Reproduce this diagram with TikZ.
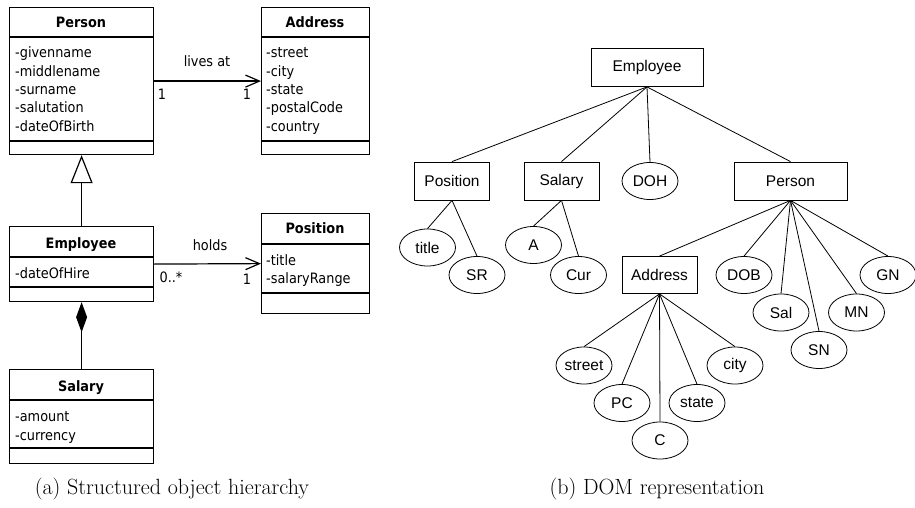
\documentclass[tikz,border=0pt]{standalone}
\usepackage{fontspec}
\newfontfamily\umlfont[FakeStretch=0.9]{DejaVu Sans}
\newfontfamily\domfont{Liberation Sans}
\usetikzlibrary{arrows.meta,shapes.geometric}
\begin{document}
\begin{tikzpicture}[x=1pt,y=-1pt,
  umlbox/.style={draw, line width=1.2pt, inner sep=0pt, anchor=north west},
  umlsep/.style={line width=1.2pt},
  umltitle/.style={font=\umlfont\bfseries\fontsize{14.3}{16}\selectfont, inner sep=0pt, anchor=base},
  umlattr/.style={font=\umlfont\fontsize{14.3}{16}\selectfont, inner sep=0pt, anchor=base west},
  umllabel/.style={font=\umlfont\fontsize{14.3}{16}\selectfont, inner sep=0pt, anchor=base},
  assoc/.style={line width=1.2pt, -{Straight Barb[length=14pt,width=12pt,line width=1.2pt]}},
  gen/.style={line width=1.2pt, -{Triangle[open,length=28pt,width=22pt,line width=1.2pt,fill=white]}},
  comp/.style={line width=1.2pt, -{Diamond[length=30pt,width=11pt]}},
  domrect/.style={draw, line width=0.8pt, rectangle, minimum height=38pt, inner sep=0pt, font=\domfont\fontsize{15.5}{18}\selectfont},
  domell/.style={draw, line width=0.8pt, ellipse, minimum width=56pt, minimum height=37pt, inner sep=0pt, font=\domfont\fontsize{15.5}{18}\selectfont},
  domedge/.style={line width=0.8pt},
  caption/.style={font=\fontsize{22}{26}\selectfont, inner sep=0pt, anchor=base}
]
\useasboundingbox (0,0) rectangle (915,508);

% ---------- UML: Person ----------
\node[umlbox, minimum width=144pt, minimum height=147pt] (person) at (9,7) {};
\draw[umlsep] (9,37) -- (153,37);
\draw[umlsep] (9,141) -- (153,141);
\node[umltitle] (personT) at (81,28) {Person};
\node[umlattr] (p1) at (15,58) {-givenname};
\node[umlattr] (p2) at (15,76.3) {-middlename};
\node[umlattr] (p3) at (15,94.6) {-surname};
\node[umlattr] (p4) at (15,112.9) {-salutation};
\node[umlattr] (p5) at (15,131.2) {-dateOfBirth};

% ---------- UML: Address ----------
\node[umlbox, minimum width=108pt, minimum height=147pt] (address) at (261,7) {};
\draw[umlsep] (261,37) -- (369,37);
\draw[umlsep] (261,141) -- (369,141);
\node[umltitle] (addressT) at (315,28) {Address};
\node[umlattr] (a1) at (266,58) {-street};
\node[umlattr] (a2) at (266,76.3) {-city};
\node[umlattr] (a3) at (266,94.6) {-state};
\node[umlattr] (a4) at (266,112.9) {-postalCode};
\node[umlattr] (a5) at (266,131.2) {-country};

% ---------- UML: Employee ----------
\node[umlbox, minimum width=144pt, minimum height=75pt] (employee) at (9,226) {};
\draw[umlsep] (9,257) -- (153,257);
\draw[umlsep] (9,287) -- (153,287);
\node[umltitle] (employeeT) at (81,248.5) {Employee};
\node[umlattr] (e1) at (15,278.5) {-dateOfHire};

% ---------- UML: Position ----------
\node[umlbox, minimum width=108pt, minimum height=100pt] (position) at (261,213) {};
\draw[umlsep] (261,244) -- (369,244);
\draw[umlsep] (261,293) -- (369,293);
\node[umltitle] (positionT) at (315,233.5) {Position};
\node[umlattr] (o1) at (266,265) {-title};
\node[umlattr] (o2) at (266,283.3) {-salaryRange};

% ---------- UML: Salary ----------
\node[umlbox, minimum width=144pt, minimum height=94pt] (salary) at (9,369) {};
\draw[umlsep] (9,400) -- (153,400);
\draw[umlsep] (9,448) -- (153,448);
\node[umltitle] (salaryT) at (81,391.7) {Salary};
\node[umlattr] (s1) at (15,421.7) {-amount};
\node[umlattr] (s2) at (15,440) {-currency};

% ---------- UML connectors ----------
\draw[assoc] (person.east) -- (address.west);
\node[umllabel] (livesat) at (207,66.7) {lives at};
\node[umllabel] (m1) at (162,99.3) {1};
\node[umllabel] (m2) at (247,100) {1};

\draw[assoc] (employee.east) -- (position.west);
\node[umllabel] (holds) at (210,250) {holds};
\node[umllabel] (m3) at (171,282.7) {0..*};
\node[umllabel] (m4) at (247,284) {1};

\draw[gen] (employee.north) -- (person.south);
\draw[comp] (salary.north) -- (employee.south);

% ---------- DOM tree ----------
\node[domrect, minimum width=112pt] (demp) at (647,67.5) {Employee};
\node[domrect, minimum width=75pt] (dpos) at (452,181) {Position};
\node[domrect, minimum width=75pt] (dsal) at (561.5,181) {Salary};
\node[domell] (ddoh) at (650,181) {DOH};
\node[domrect, minimum width=113pt] (dper) at (790.5,181) {Person};

\node[domell] (dtitle) at (427.5,247.5) {title};
\node[domell] (dsr) at (477,275) {SR};
\node[domell] (da) at (533.5,245) {A};
\node[domell] (dcur) at (578.5,275) {Cur};

\node[domrect, minimum width=75pt, minimum height=37pt] (daddr) at (659.5,275) {Address};
\node[domell] (ddob) at (744,275) {DOB};
\node[domell] (dgn) at (888,275) {GN};
\node[domell] (dsal2) at (781,312.5) {Sal};
\node[domell] (dmn) at (856.5,312.5) {MN};
\node[domell] (dsn) at (819,350) {SN};

\node[domell] (dstreet) at (584,365.5) {street};
\node[domell] (dpc) at (622,403) {PC};
\node[domell] (dc) at (660,440.5) {C};
\node[domell] (dstate) at (697,403) {state};
\node[domell] (dcity) at (735,365.5) {city};

\foreach \t in {dpos,dsal,ddoh,dper} \draw[domedge] (demp.south) -- (\t.north);
\foreach \t in {dtitle,dsr} \draw[domedge] (dpos.south) -- (\t.north);
\foreach \t in {da,dcur} \draw[domedge] (dsal.south) -- (\t.north);
\foreach \t in {daddr,ddob,dsal2,dsn,dmn,dgn} \draw[domedge] (dper.south) -- (\t.north);
\foreach \t in {dstreet,dpc,dc,dstate,dcity} \draw[domedge] (daddr.south) -- (\t.north);

% ---------- captions ----------
\node[caption] (capa) at (172,494) {(a) Structured object hierarchy};
\node[caption] (capb) at (657,494) {(b) DOM representation};
\end{tikzpicture}
\end{document}
